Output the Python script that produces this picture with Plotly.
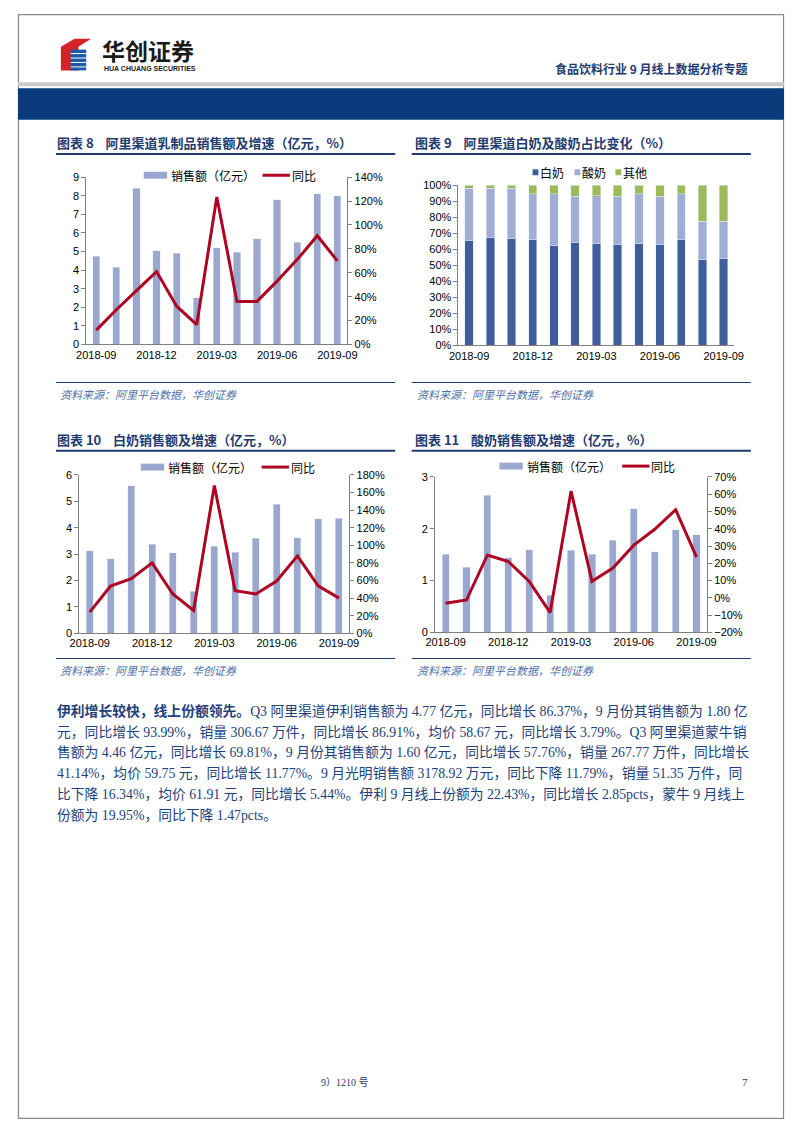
import plotly.graph_objects as go

# page is 802x1133; figure sits inside the default 8px body margin
OX, OY = 8, 8
W, H = 786, 1117

def px(x):
    return (x - OX) / W

def py(y):
    return 1 - (y - OY) / H

# ---------------- data ----------------
months = ["2018-09", "2018-10", "2018-11", "2018-12", "2019-01", "2019-02", "2019-03",
          "2019-04", "2019-05", "2019-06", "2019-07", "2019-08", "2019-09"]
tick_months = ["2018-09", "2018-12", "2019-03", "2019-06", "2019-09"]

# 图表8 乳制品
dairy_sales = [4.75, 4.15, 8.4, 5.05, 4.9, 2.5, 5.2, 4.95, 5.7, 7.8, 5.5, 8.1, 8.0]
dairy_yoy = [12, 29, 45, 61, 32, 16.5, 123.5, 36, 36, 53, 71, 91, 70]

# 图表9 占比
white_share = [65.5, 67.5, 66.8, 66.0, 62.3, 64.3, 63.3, 62.8, 63.3, 62.8, 66.2, 53.5, 54.3]
yogurt_share = [32.5, 30.5, 31.2, 28.5, 32.2, 28.7, 30.2, 30.2, 31.2, 30.2, 28.3, 24.0, 23.2]
other_share = [2.0, 2.0, 2.0, 5.5, 5.5, 7.0, 6.5, 7.0, 5.5, 7.0, 5.5, 22.5, 22.5]

# 图表10 白奶
white_sales = [3.12, 2.83, 5.6, 3.37, 3.06, 1.6, 3.3, 3.08, 3.6, 4.9, 3.62, 4.34, 4.36]
white_yoy = [24, 53.7, 62, 80, 44.7, 26, 168, 48.5, 44.7, 59.4, 88, 54, 40]

# 图表11 酸奶
yogurt_sales = [1.51, 1.26, 2.65, 1.44, 1.59, 0.72, 1.58, 1.51, 1.78, 2.39, 1.56, 1.98, 1.88]
yogurt_yoy = [-3.2, -1.3, 24.8, 21, 9.5, -8.6, 61.8, 9.5, 17.2, 30.5, 39.7, 51, 23.5]

# ---------------- styles ----------------
BAR_C = "#9AA8CF"
LINE_C = "#AE0522"
WHITE_C = "#3E5F9C"
YOG_C = "#A0AED5"
OTH_C = "#9BBB59"
NAVY = "#1F3B70"
TXT_BLUE = "#213F7A"
AX_C = "#7F7F7F"
CJK = "Noto Sans CJK SC"
LAT = "Arial, Liberation Sans, " + CJK
SERIF = "Liberation Serif, " + CJK
SP = "\u00a0"

fig = go.Figure()

# chart 1
fig.add_trace(go.Bar(x=months, y=dairy_sales, marker_color=BAR_C, width=0.36,
                     xaxis="x", yaxis="y", showlegend=False, name="销售额（亿元）"))
fig.add_trace(go.Scatter(x=months, y=dairy_yoy, mode="lines", line=dict(color=LINE_C, width=3),
                         xaxis="x", yaxis="y2", showlegend=False, name="同比"))
# chart 2
fig.add_trace(go.Bar(x=months, y=white_share, marker_color=WHITE_C, width=0.4,
                     xaxis="x2", yaxis="y3", showlegend=False, name="白奶"))
fig.add_trace(go.Bar(x=months, y=yogurt_share, marker_color=YOG_C, width=0.4,
                     xaxis="x2", yaxis="y3", showlegend=False, name="酸奶"))
fig.add_trace(go.Bar(x=months, y=other_share, marker_color=OTH_C, width=0.4,
                     xaxis="x2", yaxis="y3", showlegend=False, name="其他"))
# chart 3
fig.add_trace(go.Bar(x=months, y=white_sales, marker_color=BAR_C, width=0.34,
                     xaxis="x3", yaxis="y4", showlegend=False, name="销售额（亿元）"))
fig.add_trace(go.Scatter(x=months, y=white_yoy, mode="lines", line=dict(color=LINE_C, width=3),
                         xaxis="x3", yaxis="y5", showlegend=False, name="同比"))
# chart 4
fig.add_trace(go.Bar(x=months, y=yogurt_sales, marker_color=BAR_C, width=0.34,
                     xaxis="x4", yaxis="y6", showlegend=False, name="销售额（亿元）"))
fig.add_trace(go.Scatter(x=months, y=yogurt_yoy, mode="lines", line=dict(color=LINE_C, width=3),
                         xaxis="x4", yaxis="y7", showlegend=False, name="同比"))

tickfont = dict(family=LAT, size=11, color="#000000")

def xax(x0, x1, anchor):
    return dict(domain=[px(x0), px(x1)], anchor=anchor, type="category",
                categoryorder="array", categoryarray=months,
                range=[-0.5, 12.5], tickmode="array", tickvals=tick_months,
                ticktext=tick_months, showline=True, linecolor=AX_C, linewidth=1,
                ticks="", showgrid=False, zeroline=False, tickfont=tickfont, fixedrange=True)

def yax(y0, y1, anchor, rng, dtick, suffix=""):
    return dict(domain=[py(y1), py(y0)], anchor=anchor, range=rng, dtick=dtick,
                ticksuffix=suffix, showline=True, linecolor=AX_C, linewidth=1,
                ticks="outside", ticklen=4, tickcolor=AX_C, showgrid=False,
                zeroline=False, tickfont=tickfont, fixedrange=True)

def y2ax(over, anchor, rng, dtick):
    return dict(overlaying=over, anchor=anchor, side="right", range=rng, dtick=dtick,
                ticksuffix="%", showline=True, linecolor=AX_C, linewidth=1,
                ticks="outside", ticklen=4, tickcolor=AX_C, showgrid=False,
                zeroline=False, tickfont=tickfont, fixedrange=True)

fig.update_layout(
    width=W, height=H, margin=dict(l=0, r=0, t=0, b=0),
    paper_bgcolor="white", plot_bgcolor="rgba(0,0,0,0)",
    barmode="stack", bargap=0.6,
    xaxis=xax(78, 346, "y"),
    yaxis=yax(173, 342, "x", [0, 9], 1),
    yaxis2=y2ax("y", "x", [0, 140], 20),
    xaxis2=xax(460, 743, "y3"),
    yaxis3=yax(181, 343, "x2", [0, 100], 10, "%"),
    xaxis3=xax(71, 348, "y4"),
    yaxis4=yax(474, 634, "x3", [0, 6], 1),
    yaxis5=y2ax("y4", "x3", [0, 180], 20),
    xaxis4=xax(436, 715, "y6"),
    yaxis6=yax(476, 633, "x4", [0, 3], 1),
    yaxis7=y2ax("y6", "x4", [-20, 70], 10),
)

shapes = []
annos = []

def rect(x0, y0, x1, y1, color, line=None):
    shapes.append(dict(type="rect", xref="paper", yref="paper",
                       x0=px(x0), x1=px(x1), y0=py(y1), y1=py(y0),
                       fillcolor=color, line=dict(width=0) if line is None else line,
                       layer="above"))

def hline(x0, x1, y, color, width):
    shapes.append(dict(type="line", xref="paper", yref="paper",
                       x0=px(x0), x1=px(x1), y0=py(y), y1=py(y),
                       line=dict(color=color, width=width)))

def text(x, y, s, size=12, color="#000", family=CJK, xanchor="left", bold=False, italic=False,
         align="left", yanchor="middle"):
    if bold:
        s = "<b>" + s + "</b>"
    if italic:
        s = "<i>" + s + "</i>"
    annos.append(dict(xref="paper", yref="paper", x=px(x), y=py(y), text=s,
                      showarrow=False, xanchor=xanchor, yanchor=yanchor, align=align,
                      borderpad=0,
                      font=dict(size=size, color=color, family=family)))

# ---------------- page border & header ----------------
shapes.append(dict(type="rect", xref="paper", yref="paper", x0=0.0006, x1=0.9994,
                   y0=0.0005, y1=0.9995, line=dict(color="#8A8A8A", width=1.2),
                   fillcolor="rgba(0,0,0,0)"))
rect(OX, 77, 802 - OX, 81, "#C9C9C9")
rect(OX, 83, 802 - OX, 115, "#083A7C")

# logo
shapes.append(dict(type="path", xref="paper", yref="paper",
                   path="M {} {} L {} {} L {} {} L {} {} L {} {} L {} {} Z".format(
                       px(52), py(41), px(66), py(33), px(83), py(33),
                       px(70), py(41), px(70), py(65), px(52), py(65)),
                   fillcolor="#D8222A", line=dict(width=0)))
shapes.append(dict(type="path", xref="paper", yref="paper",
                   path="M {} {} L {} {} L {} {} L {} {} Z".format(
                       px(62), py(44), px(78), py(44), px(78), py(65), px(62), py(65)),
                   fillcolor="#1E5AA8", line=dict(width=0)))
for k in range(4):
    hline(62, 78, 48 + k * 4.5, "white", 1)
text(93, 44, "华创证券", size=23, color="#1A1A1A", bold=True)
text(95, 59, "HUA CHUANG SECURITIES", size=7, color="#1A1A1A",
     family="Liberation Sans, Arial", bold=True, yanchor="top")
text(758, 63, "食品饮料行业 9 月线上数据分析专题", size=12, color=NAVY, xanchor="right", bold=True)

# ---------------- chart titles / sources ----------------
gap = SP * 4
text(47, 138, "图表 8" + gap + "阿里渠道乳制品销售额及增速（亿元，%）", size=13, color=NAVY, bold=True)
hline(47, 395, 149.5, NAVY, 2)
text(414, 138, "图表 9" + gap + "阿里渠道白奶及酸奶占比变化（%）", size=13, color=NAVY, bold=True)
hline(412, 760, 149.5, NAVY, 2)

hline(47, 395, 380.5, NAVY, 1.2)
hline(412, 760, 380.5, NAVY, 1.2)
text(50, 392, "资料来源：阿里平台数据，华创证券", size=11, color="#4D6FA8", italic=True)
text(416, 392, "资料来源：阿里平台数据，华创证券", size=11, color="#4D6FA8", italic=True)

text(47, 438, "图表 10" + gap + "白奶销售额及增速（亿元，%）", size=13, color=NAVY, bold=True)
hline(47, 395, 449.5, NAVY, 2)
text(414, 438, "图表 11" + gap + "酸奶销售额及增速（亿元，%）", size=13, color=NAVY, bold=True)
hline(412, 760, 449.5, NAVY, 2)

hline(47, 395, 659.5, NAVY, 1.2)
hline(412, 760, 659.5, NAVY, 1.2)
text(50, 671, "资料来源：阿里平台数据，华创证券", size=11, color="#4D6FA8", italic=True)
text(416, 671, "资料来源：阿里平台数据，华创证券", size=11, color="#4D6FA8", italic=True)

# ---------------- legends ----------------
def bar_line_legend(xb, xl, y):
    rect(xb, y - 3.5, xb + 24, y + 3.5, BAR_C)
    text(xb + 27, y, "销售额（亿元）", size=12)
    hline(xl, xl + 28, y, LINE_C, 3)
    text(xl + 29, y, "同比", size=12)

bar_line_legend(137, 259, 171)
bar_line_legend(134, 258, 466)
bar_line_legend(502, 628, 465)

for xs, lab, col in [(536, "白奶", WHITE_C), (579, "酸奶", YOG_C), (621, "其他", OTH_C)]:
    rect(xs, 165, xs + 6, 171, col)
    text(xs + 7, 168, lab, size=12)

# ---------------- body text ----------------
body_lines = [
    "<b>伊利增长较快，线上份额领先。</b>Q3 阿里渠道伊利销售额为 4.77 亿元，同比增长 86.37%，9 月份其销售额为 1.80 亿",
    "元，同比增长 93.99%，销量 306.67 万件，同比增长 86.91%，均价 58.67 元，同比增长 3.79%。Q3 阿里渠道蒙牛销",
    "售额为 4.46 亿元，同比增长 69.81%，9 月份其销售额为 1.60 亿元，同比增长 57.76%，销量 267.77 万件，同比增长",
    "41.14%，均价 59.75 元，同比增长 11.77%。9 月光明销售额 3178.92 万元，同比下降 11.79%，销量 51.35 万件，同",
    "比下降 16.34%，均价 61.91 元，同比增长 5.44%。伊利 9 月线上份额为 22.43%，同比增长 2.85pcts，蒙牛 9 月线上",
    "份额为 19.95%，同比下降 1.47pcts。",
]
body_y = [713, 734, 755, 776, 797, 818]
for s, y in zip(body_lines, body_y):
    text(47, y, s, size=13.8, color=TXT_BLUE, family=SERIF)

# footer
text(318, 1088, "9）1210 号", size=10, color=NAVY, family=SERIF)
text(758, 1088, "7", size=11, color=NAVY, family=SERIF, xanchor="right")

fig.update_layout(shapes=shapes, annotations=annos)
fig.write_html("out.html", config={"displayModeBar": False})
